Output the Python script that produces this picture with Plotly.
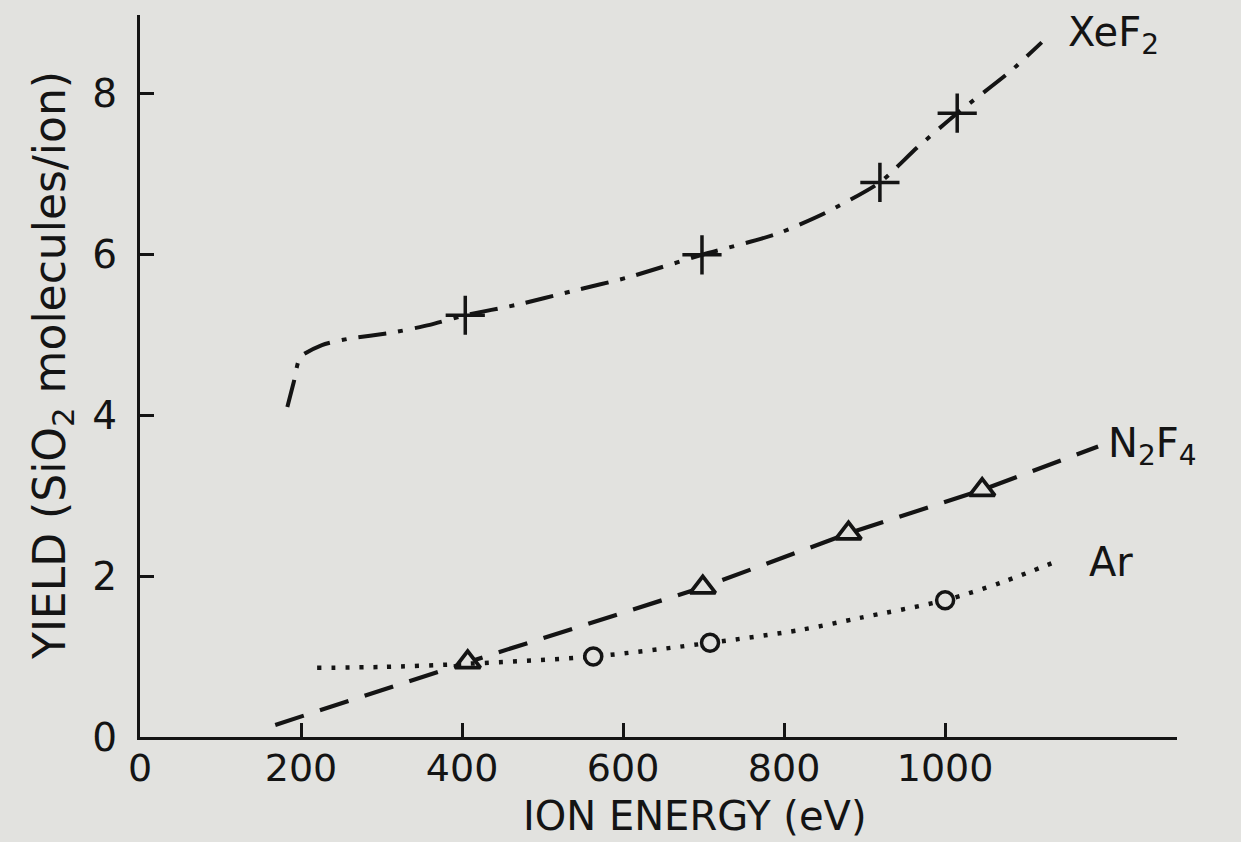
import plotly.graph_objects as go

# ---------------- data ----------------
xef2_curve_x = [183, 191, 199, 226, 260, 311, 360, 404, 468, 537, 606, 698, 791, 851, 919, 965, 1015, 1081, 1120]
xef2_curve_y = [4.10, 4.41, 4.72, 4.87, 4.95, 5.02, 5.12, 5.24, 5.37, 5.54, 5.71, 5.99, 6.25, 6.51, 6.89, 7.32, 7.75, 8.27, 8.63]
xef2_pts_x = [404, 698, 919, 1015]
xef2_pts_y = [5.24, 5.99, 6.89, 7.75]

n2f4_curve_x = [168, 407, 699, 880, 1046, 1190]
n2f4_curve_y = [0.15, 0.93, 1.86, 2.53, 3.07, 3.61]
n2f4_pts_x = [407, 699, 880, 1046]
n2f4_pts_y = [0.93, 1.86, 2.53, 3.07]

ar_curve_x = [220, 300, 407, 563, 708, 820, 894, 1000, 1070, 1143]
ar_curve_y = [0.86, 0.87, 0.91, 1.00, 1.17, 1.33, 1.48, 1.70, 1.92, 2.20]
ar_pts_x = [563, 708, 1000]
ar_pts_y = [1.00, 1.17, 1.70]

x_ticks = [0, 200, 400, 600, 800, 1000]
x_ticklabels = ["0", "200", "400", "600", "800", "1000"]
y_ticks = [0, 2, 4, 6, 8]
y_ticklabels = ["0", "2", "4", "6", "8"]

series_labels = ["XeF<sub>2</sub>", "N<sub>2</sub>F<sub>4</sub>", "Ar"]
label_pos = [(1150, 8.72), (1200, 3.62), (1176, 2.17)]
x_title = "ION ENERGY (eV)"
y_title = "YIELD (SiO<sub>2</sub> molecules/ion)"

# ---------------- styling ----------------
INK = "#141414"
BG = "#e2e2df"
FONT = "DejaVu Sans"
W, H = 1241, 842
L, R, T, B = 140, 64, 15, 105
PW, PH = W - L - R, H - T - B

fig = go.Figure()

fig.add_trace(go.Scatter(x=xef2_curve_x, y=xef2_curve_y, mode="lines",
                         line=dict(color=INK, width=4, dash="28px,12px,5px,12px",
                                   shape="spline", smoothing=0.6),
                         hoverinfo="skip"))
fig.add_trace(go.Scatter(x=xef2_pts_x, y=xef2_pts_y, mode="markers",
                         marker=dict(symbol="cross-thin", size=28, color=INK,
                                     line=dict(color=INK, width=3.5))))

fig.add_trace(go.Scatter(x=n2f4_curve_x, y=n2f4_curve_y, mode="lines",
                         line=dict(color=INK, width=4.2, dash="30px,17px"),
                         hoverinfo="skip"))
fig.add_trace(go.Scatter(x=n2f4_pts_x, y=n2f4_pts_y, mode="markers",
                         marker=dict(symbol="triangle-up", size=22, color=BG,
                                     line=dict(color=INK, width=3.8))))

fig.add_trace(go.Scatter(x=ar_curve_x, y=ar_curve_y, mode="lines",
                         line=dict(color=INK, width=4.5, dash="4px,10px",
                                   shape="spline", smoothing=0.8),
                         hoverinfo="skip"))
fig.add_trace(go.Scatter(x=ar_pts_x, y=ar_pts_y, mode="markers",
                         marker=dict(symbol="circle", size=17, color=BG,
                                     line=dict(color=INK, width=3.5))))

annotations = []
for txt, (lx, ly) in zip(series_labels, label_pos):
    annotations.append(dict(x=lx, y=ly, xref="x", yref="y", text=txt, showarrow=False,
                            xanchor="left", yanchor="middle",
                            font=dict(family=FONT, size=40, color=INK)))

# axis titles placed in pixels relative to the plot area
annotations.append(dict(xref="paper", yref="paper",
                        x=(695 - L) / PW, y=(H - B - 841) / PH,
                        text=x_title, showarrow=False,
                        xanchor="center", yanchor="bottom",
                        font=dict(family=FONT, size=40, color=INK)))
annotations.append(dict(xref="paper", yref="paper",
                        x=(52 - L) / PW, y=(H - B - 366) / PH,
                        text=y_title, textangle=-90, showarrow=False,
                        xanchor="center", yanchor="middle",
                        font=dict(family=FONT, size=44, color=INK)))

fig.update_layout(
    width=W, height=H,
    margin=dict(l=L, r=R, t=T, b=B, autoexpand=False),
    paper_bgcolor=BG, plot_bgcolor=BG,
    showlegend=False,
    annotations=annotations,
    font=dict(family=FONT, color=INK),
)

fig.update_xaxes(range=[0, 1288], showgrid=False, zeroline=False,
                 showline=True, linecolor=INK, linewidth=3,
                 ticks="inside", ticklen=14, tickwidth=3, tickcolor=INK,
                 tickvals=x_ticks, ticktext=x_ticklabels,
                 tickfont=dict(family=FONT, size=38, color=INK),
                 ticklabelstandoff=-5)
fig.update_yaxes(range=[0, 8.97], showgrid=False, zeroline=False,
                 showline=True, linecolor=INK, linewidth=3,
                 ticks="inside", ticklen=14, tickwidth=3, tickcolor=INK,
                 tickvals=y_ticks, ticktext=y_ticklabels,
                 tickfont=dict(family=FONT, size=39, color=INK),
                 ticklabelstandoff=12)

fig.write_html("out.html",
               config={"displayModeBar": False},
               post_script="document.body.style.margin='0';"
                           "document.body.style.background='" + BG + "';")
